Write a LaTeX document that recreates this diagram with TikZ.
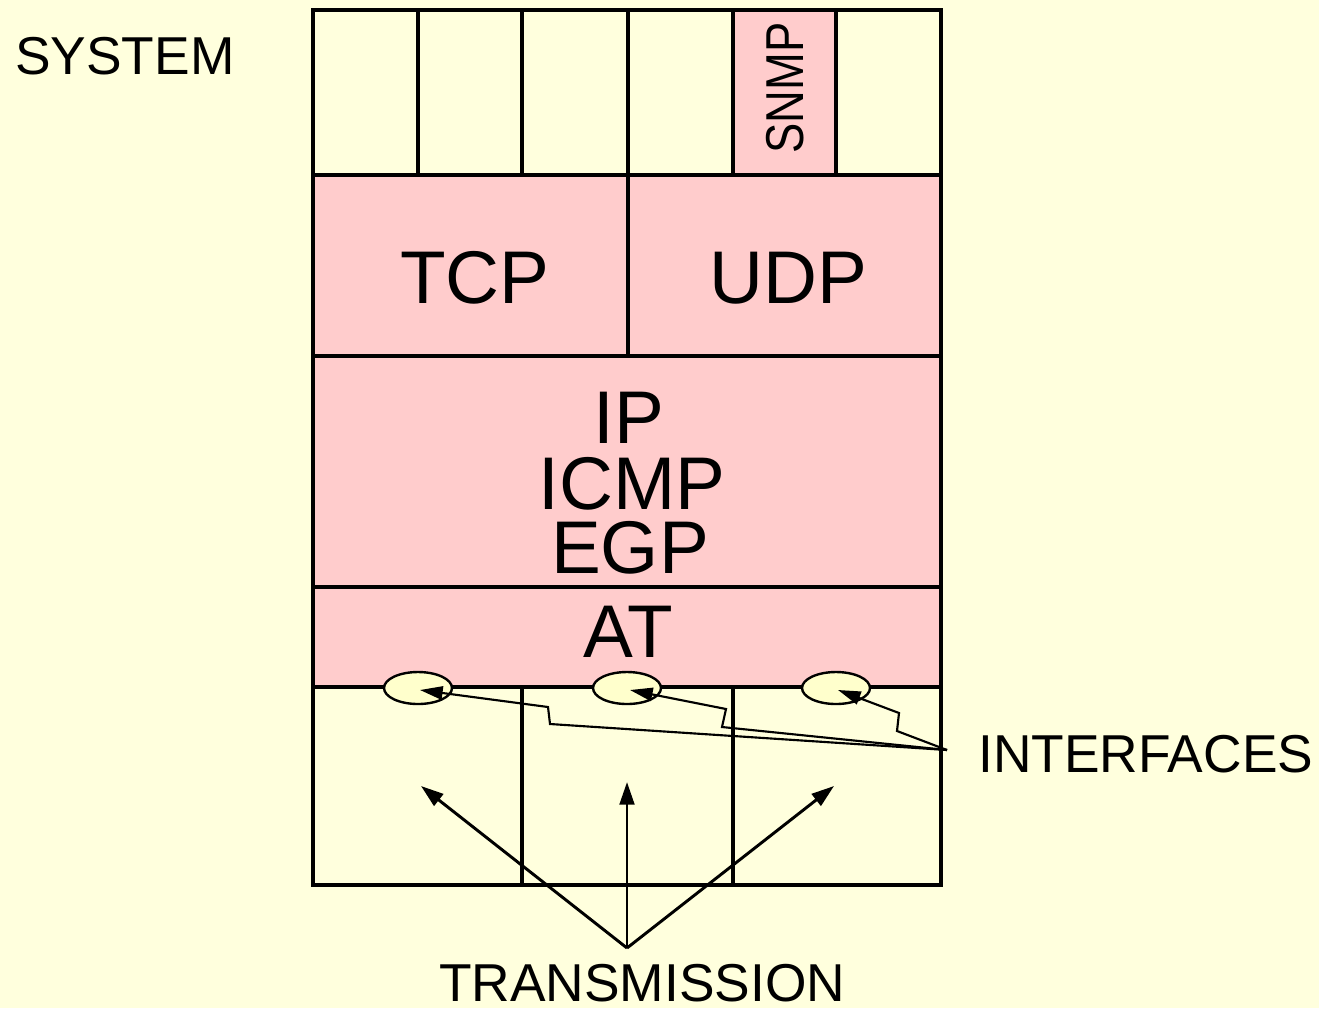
\documentclass[tikz,border=0pt]{standalone}
\usepackage{fontspec}
\setmainfont{Liberation Sans}
\usetikzlibrary{arrows.meta,shapes.geometric}
\definecolor{bgyellow}{HTML}{FFFFDD}
\definecolor{cellpink}{HTML}{FFCCCC}
\definecolor{ifyellow}{HTML}{FFFFCC}
\tikzset{
  cell/.style={draw=black,line width=2.6pt},
  pinkcell/.style={cell,fill=cellpink},
  bigtxt/.style={inner sep=0pt,font=\fontsize{56}{60}\selectfont},
  labtxt/.style={inner sep=0pt,font=\fontsize{40}{44}\selectfont},
  iface/.style={ellipse,draw=black,line width=1.8pt,fill=ifyellow,minimum width=51pt,minimum height=24pt,inner sep=0pt},
  ifarrow/.style={draw=black,line width=1.6pt,-{Triangle[length=17pt,width=10pt]}},
  txarrow/.style={draw=black,line width=2.2pt,-{Triangle[length=17pt,width=11pt]}}
}
\begin{document}
\begin{tikzpicture}[x=0.75pt,y=-0.75pt]
\useasboundingbox[fill=bgyellow] (0,0) rectangle (1319,1008);
% top row
\draw[cell] (313,10) rectangle (418,175);
\draw[cell] (418,10) rectangle (522,175);
\draw[cell] (522,10) rectangle (628,175);
\draw[cell] (628,10) rectangle (733,175);
\draw[pinkcell] (733,10) rectangle (836,175);
\draw[cell] (836,10) rectangle (941,175);
% TCP / UDP
\draw[pinkcell] (313,175) rectangle (628,356);
\draw[pinkcell] (628,175) rectangle (941,356);
% IP
\draw[pinkcell] (313,356) rectangle (941,587);
% AT
\draw[pinkcell] (313,587) rectangle (941,687);
% bottom
\draw[cell] (313,687) rectangle (522,885);
\draw[cell] (522,687) rectangle (733,885);
\draw[cell] (733,687) rectangle (941,885);
% texts
\node[labtxt,rotate=90,xscale=0.85] (snmp) at (785,88) {SNMP};
\node[bigtxt] (tcp) at (475,278) {TCP};
\node[bigtxt] (udp) at (788,278) {UDP};
\node[bigtxt] (ip) at (629,418) {IP};
\node[bigtxt] (icmp) at (632,484) {ICMP};
\node[bigtxt] (egp) at (630,548) {EGP};
\node[bigtxt] (at) at (628,632) {AT};
\node[labtxt,anchor=west] (system) at (15,56) {SYSTEM};
\node[labtxt,anchor=west] (interfaces) at (978,754) {INTERFACES};
\node[labtxt] (transmission) at (642,983) {TRANSMISSION};
% interfaces
\node[iface] (if1) at (418,688) {};
\node[iface] (if2) at (627,688) {};
\node[iface] (if3) at (836,688) {};
\coordinate (ifsrc) at (947,750);
\coordinate (t1) at (420,690);
\coordinate (t2) at (630,690);
\coordinate (t3) at (838,690);
\draw[ifarrow] (ifsrc) -- (550,724) -- (548,707) -- (t1);
\draw[ifarrow] (ifsrc) -- (722,727) -- (726,709) -- (t2);
\draw[ifarrow] (ifsrc) -- (897,731) -- (899,713) -- (t3);
% transmission
\coordinate (txsrc) at (627,948);
\coordinate (tx1) at (421,786);
\coordinate (tx2) at (627,782);
\coordinate (tx3) at (834,786);
\draw[txarrow] (txsrc) -- (tx1);
\draw[txarrow] (txsrc) -- (tx2);
\draw[txarrow] (txsrc) -- (tx3);
\end{tikzpicture}
\end{document}
